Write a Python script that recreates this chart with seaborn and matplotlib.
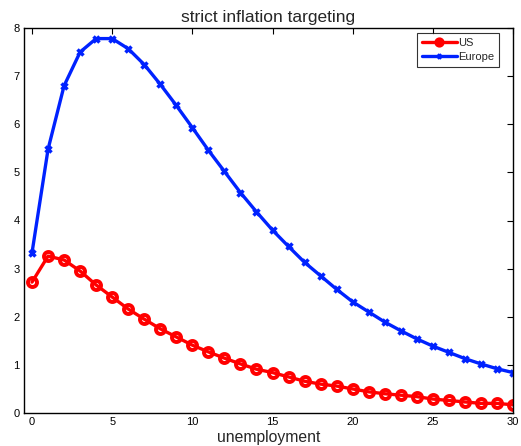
import numpy as np
import pandas as pd
import matplotlib
matplotlib.use("Agg")
import matplotlib.pyplot as plt
import seaborn as sns

# values
periods = list(range(31))
us = [2.72, 3.26, 3.18, 2.95, 2.66, 2.41, 2.16, 1.95, 1.75, 1.58,
      1.41, 1.27, 1.14, 1.02, 0.91, 0.84, 0.75, 0.66, 0.60, 0.56,
      0.50, 0.44, 0.40, 0.37, 0.34, 0.29, 0.26, 0.23, 0.20, 0.20, 0.17]
europe = [3.33, 5.48, 6.80, 7.50, 7.78, 7.78, 7.57, 7.24, 6.83, 6.39,
          5.93, 5.46, 5.02, 4.58, 4.18, 3.80, 3.46, 3.13, 2.85, 2.57,
          2.31, 2.10, 1.89, 1.71, 1.54, 1.39, 1.26, 1.13, 1.02, 0.92, 0.84]
xticks = [0, 5, 10, 15, 20, 25, 30]
yticks = [0, 1, 2, 3, 4, 5, 6, 7, 8]

df = pd.DataFrame({"t": periods, "US": us, "Europe": europe})

sns.set_style("white")
plt.rcParams['font.family'] = ['Liberation Sans', 'DejaVu Sans']

fig = plt.figure(figsize=(5.21, 4.46), dpi=100)
ax = fig.add_axes([24 / 521, 1 - 413 / 446, 489 / 521, 385 / 446])

sns.lineplot(data=df, x="t", y="US", ax=ax, color="#ff0000", lw=2.4,
             marker="o", markersize=6.5, markerfacecolor="none",
             markeredgecolor="#ff0000", markeredgewidth=2.8, label="US")
sns.lineplot(data=df, x="t", y="Europe", ax=ax, color="#0022ff", lw=2.4,
             marker="x", markersize=4.5, markeredgecolor="#0022ff",
             markeredgewidth=2.5, label="Europe")

ax.set_xlim(-0.5, 30)
ax.set_ylim(0, 8)
ax.set_xticks(xticks)
ax.set_yticks(yticks)
ax.tick_params(direction="in", top=True, right=True, length=4, width=0.8,
               labelsize=8, colors="black", pad=3)
for s in ax.spines.values():
    s.set_visible(True)
    s.set_color("black")
    s.set_linewidth(1.0)

ax.set_title("strict inflation targeting", fontsize=12.5, pad=4)
ax.set_xlabel("unemployment", fontsize=11.3, labelpad=2)
ax.set_ylabel("")

leg = ax.legend(loc="upper right", bbox_to_anchor=(0.972, 0.987),
                fontsize=8, frameon=True, fancybox=False,
                handlelength=3.2, borderpad=0.45, labelspacing=0.35,
                handletextpad=0.1, borderaxespad=0, markerscale=0.7)
leg.get_frame().set_edgecolor("black")
leg.get_frame().set_linewidth(0.8)

fig.savefig("out.png", dpi=100)
